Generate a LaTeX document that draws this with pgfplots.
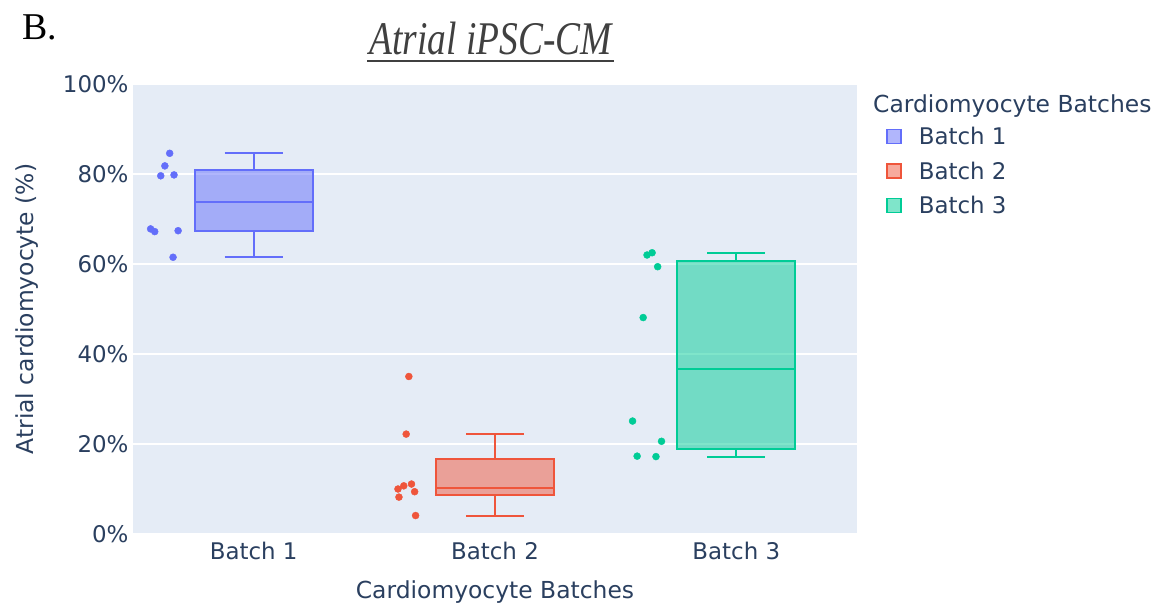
\documentclass[border=0pt]{standalone}
\usepackage{pgfplots}
\pgfplotsset{compat=1.18}
\usepgfplotslibrary{statistics}
\usepackage{fontspec}
\setmainfont{DejaVu Sans}
\newfontfamily\timesfont{Liberation Serif}
\definecolor{c1}{HTML}{636EFA}
\definecolor{c2}{HTML}{EF553B}
\definecolor{c3}{HTML}{00CC96}
\definecolor{bgc}{HTML}{E5ECF6}
\definecolor{txt}{HTML}{2A3F5F}

\begin{document}
\begin{tikzpicture}
\useasboundingbox (-133bp,-69bp) rectangle (1023bp,534bp);
\begin{axis}[
  at={(0bp,0bp)}, anchor=south west,
  scale only axis, width=724bp, height=450bp,
  xmin=0.5, xmax=3.5, ymin=0, ymax=100,
  boxplot/draw direction=y,
  xtick={1,2,3}, xticklabels={Batch 1,Batch 2,Batch 3},
  ytick={0,20,40,60,80,100}, yticklabels={0\%,20\%,40\%,60\%,80\%,100\%},
  ymajorgrids, grid style={white, line width=1.2bp},
  axis line style={draw=none}, major tick length=0pt,
  axis background/.style={fill=bgc},
  tick label style={font=\fontsize{23}{27}\selectfont, text=txt},
  xticklabel style={yshift=-5bp},
  yticklabel style={xshift=-1bp},
  xlabel={Cardiomyocyte Batches},
  ylabel={Atrial cardiomyocyte (\%)},
  label style={font=\fontsize{23.5}{28}\selectfont, text=txt},
  xlabel style={at={(axis description cs:0.5,-0.128)}, anchor=center},
  ylabel style={at={(axis description cs:-0.146,0.5)}, anchor=center},
  legend image code/.code={\draw[#1, fill opacity=0.5, line width=1.6bp] (0bp,-7bp) rectangle (14bp,7bp);},
  legend style={at={(axis description cs:1,1)}, anchor=north west,
    xshift=29bp, yshift=-43bp, draw=none, fill=none, inner sep=0pt,
    font=\fontsize{23}{27}\selectfont, text=txt, row sep=15.5bp,
    nodes={inner sep=0pt}, /tikz/column sep=17bp},
  legend cell align=left,
]
% boxes (quartiles)
\addplot[boxplot prepared={draw position=1, lower whisker=61.5, lower quartile=67.4,
  median=73.8, upper quartile=80.9, upper whisker=84.6, box extend=0.49, whisker extend=0.24},
  draw=c1, fill=c1, fill opacity=0.5, line width=2bp, forget plot] coordinates {};
\addplot[boxplot prepared={draw position=2, lower whisker=4.1, lower quartile=8.7,
  median=10.3, upper quartile=16.7, upper whisker=22.2, box extend=0.49, whisker extend=0.24},
  draw=c2, fill=c2, fill opacity=0.5, line width=2bp, forget plot] coordinates {};
\addplot[boxplot prepared={draw position=3, lower whisker=17.2, lower quartile=18.9,
  median=36.6, upper quartile=60.7, upper whisker=62.5, box extend=0.49, whisker extend=0.24},
  draw=c3, fill=c3, fill opacity=0.5, line width=2bp, forget plot] coordinates {};
% jittered points
\addplot[only marks, mark=*, mark size=3.5bp, color=c1, forget plot] coordinates {
  (0.652,84.6) (0.632,81.8) (0.615,79.6) (0.670,79.8)
  (0.573,67.8) (0.590,67.2) (0.687,67.4) (0.666,61.5)};
\addplot[only marks, mark=*, mark size=3.5bp, color=c2, forget plot] coordinates {
  (1.643,35.0) (1.632,22.2) (1.654,11.1) (1.622,10.7)
  (1.598,10.0) (1.667,9.4) (1.602,8.2) (1.671,4.1)};
\addplot[only marks, mark=*, mark size=3.5bp, color=c3, forget plot] coordinates {
  (2.630,62.0) (2.651,62.5) (2.674,59.4) (2.614,48.1)
  (2.570,25.1) (2.690,20.6) (2.589,17.3) (2.667,17.2)};
\addlegendimage{draw=c1, fill=c1}
\addlegendentry{Batch 1}
\addlegendimage{draw=c2, fill=c2}
\addlegendentry{Batch 2}
\addlegendimage{draw=c3, fill=c3}
\addlegendentry{Batch 3}
\end{axis}
\node[anchor=base west, inner sep=0, font=\fontsize{23.5}{28}\selectfont, text=txt] at (740bp,421bp) {Cardiomyocyte Batches};
\node[anchor=base, inner sep=0, font=\timesfont\itshape\fontsize{47}{50}\selectfont, text=black!75] at (357.5bp,479bp) {\scalebox{0.8}[1]{Atrial iPSC-CM}};
\draw[black!75, line width=2.5bp] (234bp,473bp) -- (481bp,473bp);
\node[anchor=base west, inner sep=0, font=\timesfont\fontsize{38}{40}\selectfont] at (-111bp,494bp) {B.};
\end{tikzpicture}
\end{document}
